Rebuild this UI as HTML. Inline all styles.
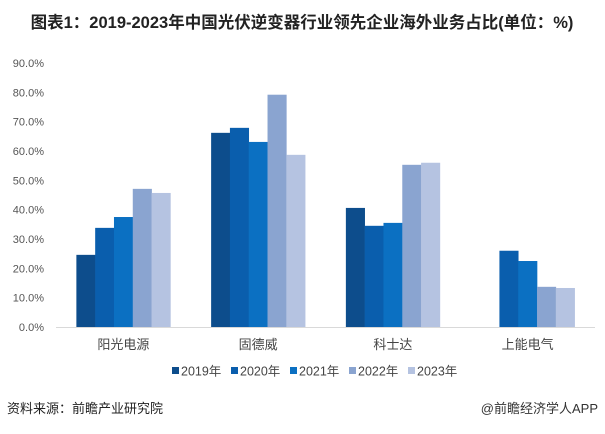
<!DOCTYPE html>
<html><head><meta charset="utf-8">
<style>
body{margin:0;width:605px;height:429px;background:#fff;overflow:hidden;font-family:"Liberation Sans","Noto Sans CJK SC",sans-serif;}
svg text{font-family:"Liberation Sans","Noto Sans CJK SC",sans-serif;}
</style></head><body>
<svg id="chart" width="605" height="429">
<text x="302" y="28" text-anchor="middle" font-size="16.5" font-weight="bold" fill="#222">图表1：2019-2023年中国光伏逆变器行业领先企业海外业务占比(单位：%)</text>
<g id="axis"></g><g id="bars"></g><g id="legend"></g>
<text x="7" y="413" font-size="13" fill="#222">资料来源：前瞻产业研究院</text>
<text x="598" y="413" text-anchor="end" font-size="13" fill="#333">@前瞻经济学人APP</text>
</svg>
<script>
const categories=["阳光电源","固德威","科士达","上能电气"];
const years=["2019年","2020年","2021年","2022年","2023年"];
const s2019=[24.6,66.2,40.6,null];
const s2020=[33.8,67.9,34.5,26.0];
const s2021=[37.5,63.1,35.5,22.5];
const s2022=[47.1,79.2,55.3,13.7];
const s2023=[45.7,58.7,56.0,13.3];
const ticks=[0,10,20,30,40,50,60,70,80,90];
const series=[s2019,s2020,s2021,s2022,s2023];
const colors=["#0d4d8c","#0a5ead","#0b70c2","#8aa4d0","#b5c3e1"];
const NS="http://www.w3.org/2000/svg";
const x0=56,x1=595,y0=327,pxPer=2.933;
const y=v=>y0-v*pxPer;
const gw=(x1-x0)/categories.length, bw=18.8;
const xBar=(c,s)=>x0+gw*c+gw/2-bw*2.5+bw*s;
function el(t,a,p){const e=document.createElementNS(NS,t);for(const k in a)e.setAttribute(k,a[k]);p.appendChild(e);return e;}
const ax=document.getElementById('axis');
ticks.forEach(t=>{const e=el('text',{x:44,y:y(t)+4,'text-anchor':'end','font-size':11,fill:'#555'},ax);e.textContent=t.toFixed(1)+'%';

});
const base=el('line',{x1:x0,x2:x1,y1:y0+0.5,y2:y0+0.5,stroke:'#d9d9d9'},ax);


categories.forEach((c,i)=>{const e=el('text',{x:x0+gw*i+gw/2,y:349,'text-anchor':'middle','font-size':13,fill:'#444'},ax);e.textContent=c;

});
const bg=document.getElementById('bars');
series.forEach((s,si)=>s.forEach((v,ci)=>{if(v==null)return;
const r=el('rect',{x:xBar(ci,si),y:y(v),width:bw+0.3,height:v*pxPer,fill:colors[si]},bg);

}));
const lg=document.getElementById('legend');
years.forEach((yr,i)=>{const lx=172+i*59;
const g=el('g',{},lg);


el('rect',{x:lx,y:367,width:7,height:7,fill:colors[i]},g);
const t=el('text',{x:lx+9,y:375.5,'font-size':12.5,fill:'#444'},g);t.textContent=yr;});
</script>
</body></html>
